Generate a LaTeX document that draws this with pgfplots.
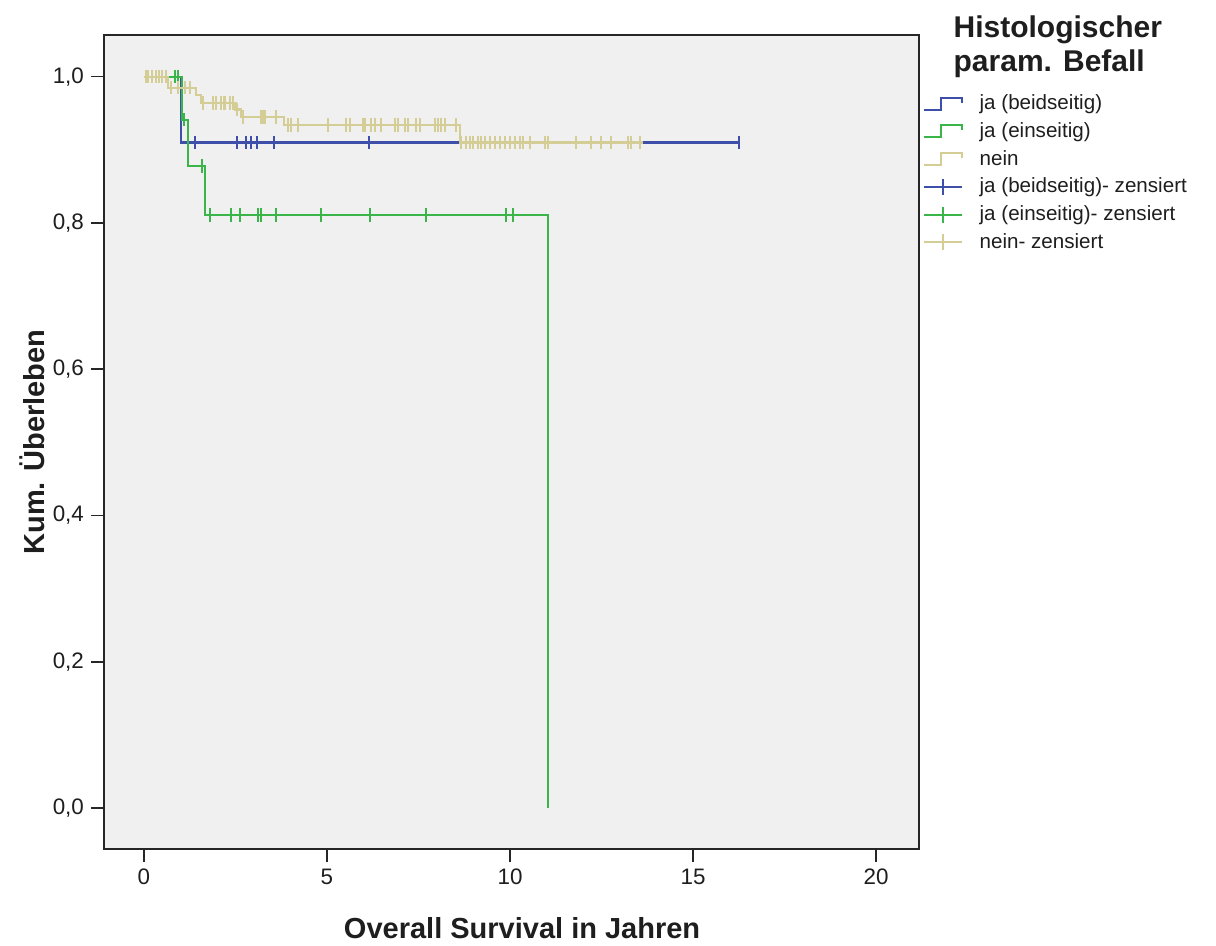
\documentclass[border=0pt]{standalone}
\usepackage{fontspec}
\setmainfont{Liberation Sans}
\usepackage{pgfplots}
\pgfplotsset{compat=1.18}
\definecolor{cBlue}{HTML}{3E4FAA}
\definecolor{cGreen}{HTML}{3AB54A}
\definecolor{cBeige}{HTML}{D4CD95}
\definecolor{plotbg}{HTML}{F0F0F0}
\definecolor{txt}{HTML}{1E1E1E}

\begin{document}
\begin{tikzpicture}
\begin{axis}[
  scale only axis, width=407.5pt, height=407pt,
  xmin=-1.09, xmax=21.17, ymin=-0.056, ymax=1.057,
  xtick={0,5,10,15,20}, ytick={0,0.2,0.4,0.6,0.8,1.0},
  xtick pos=left, ytick pos=left, tick align=outside,
  major tick length=6.5pt,
  every tick/.style={black!85, line width=0.8pt},
  axis line style={black!85, line width=1pt},
  axis background/.style={fill=plotbg},
  tick label style={font=\fontsize{11.2}{13}\selectfont, text=txt},
  /pgf/number format/assume math mode=true,
  yticklabel style={/pgf/number format/.cd, use comma, fixed, fixed zerofill, precision=1},
  xlabel={Overall Survival in Jahren},
  ylabel={Kum. Überleben},
  every axis x label/.style={at={(axis description cs:0.513,-0.097)}, anchor=center,
    font=\bfseries\fontsize{14.5}{16}\selectfont, text=txt},
  every axis y label/.style={at={(axis description cs:-0.088,0.5)}, anchor=center, rotate=90,
    font=\bfseries\fontsize{14.5}{16}\selectfont, text=txt},
  clip=false,
  legend cell align=left,
  legend style={at={(axis description cs:1.004,0.937)}, anchor=north west, draw=none, fill=none,
    font=\fontsize{10.3}{12}\selectfont, text=txt, row sep=0.9pt, inner xsep=0pt},
]
% Kaplan-Meier-Kurven
\addplot[const plot, cBlue, line width=1.1pt,
  legend image code/.code={\draw[cBlue,line width=1pt] (0pt,-3pt) -- (8.5pt,-3pt) -- (8.5pt,3pt) -- (19pt,3pt) -- (19pt,0.5pt); \path[draw=none,fill=none] (0pt,0pt) -- (26pt,0pt);}]
  coordinates {(0,1) (1.01,0.910) (16.26,0.910)};
\addlegendentry{ja (beidseitig)}
\addplot[const plot, cGreen, line width=1.1pt,
  legend image code/.code={\draw[cGreen,line width=1pt] (0pt,-3pt) -- (8.5pt,-3pt) -- (8.5pt,3pt) -- (19pt,3pt) -- (19pt,0.5pt); \path[draw=none,fill=none] (0pt,0pt) -- (26pt,0pt);}]
  coordinates {(0,1) (1.04,0.941) (1.20,0.878) (1.66,0.811) (11.04,0)};
\addlegendentry{ja (einseitig)}
\addplot[const plot, cBeige, line width=1.1pt,
  legend image code/.code={\draw[cBeige,line width=1pt] (0pt,-3pt) -- (8.5pt,-3pt) -- (8.5pt,3pt) -- (19pt,3pt) -- (19pt,0.5pt); \path[draw=none,fill=none] (0pt,0pt) -- (26pt,0pt);}]
  coordinates {(0,1) (0.66,0.985) (1.42,0.975) (1.55,0.964) (2.50,0.955) (2.65,0.945) (3.83,0.934) (8.63,0.910) (13.63,0.910)};
\addlegendentry{nein}
% zensierte Faelle
\addplot[only marks, mark=|, mark size=3.3pt, cBlue, mark options={line width=1.1pt},
  legend image code/.code={\draw[cBlue,line width=1pt] (0pt,0pt) -- (19pt,0pt) (9.5pt,-4pt) -- (9.5pt,4pt); \path[draw=none,fill=none] (0pt,0pt) -- (26pt,0pt);}]
  coordinates {(1.39,0.910) (2.54,0.910) (2.79,0.910) (2.92,0.910) (3.09,0.910) (3.55,0.910) (6.15,0.910) (16.26,0.910)};
\addlegendentry{ja (beidseitig)- zensiert}
\addplot[only marks, mark=|, mark size=3.3pt, cGreen, mark options={line width=1.1pt},
  legend image code/.code={\draw[cGreen,line width=1pt] (0pt,0pt) -- (19pt,0pt) (9.5pt,-4pt) -- (9.5pt,4pt); \path[draw=none,fill=none] (0pt,0pt) -- (26pt,0pt);}]
  coordinates {(0.85,1) (0.93,1) (1.10,0.941) (1.58,0.878)
    (1.80,0.811) (2.38,0.811) (2.62,0.811) (3.11,0.811) (3.20,0.811) (3.60,0.811)
    (4.84,0.811) (6.17,0.811) (7.70,0.811) (9.90,0.811) (10.08,0.811)};
\addlegendentry{ja (einseitig)- zensiert}
\addplot[only marks, mark=|, mark size=3.3pt, cBeige, mark options={line width=1.1pt},
  legend image code/.code={\draw[cBeige,line width=1pt] (0pt,0pt) -- (19pt,0pt) (9.5pt,-4pt) -- (9.5pt,4pt); \path[draw=none,fill=none] (0pt,0pt) -- (26pt,0pt);}]
  coordinates {(0.05,1) (0.12,1) (0.22,1) (0.32,1) (0.42,1) (0.50,1) (0.60,1)
    (0.74,0.985) (0.93,0.985) (1.12,0.985) (1.26,0.985)
    (1.61,0.964) (1.89,0.964) (1.97,0.964) (2.10,0.964) (2.20,0.964) (2.35,0.964) (2.43,0.964)
    (2.55,0.955)
    (2.70,0.945) (3.20,0.945) (3.25,0.945) (3.30,0.945) (3.60,0.945)
    (3.93,0.934) (4.02,0.934) (4.20,0.934) (5.03,0.934) (5.52,0.934) (5.63,0.934) (5.98,0.934)
    (6.04,0.934) (6.20,0.934) (6.31,0.934) (6.48,0.934) (6.86,0.934) (6.94,0.934) (7.13,0.934)
    (7.21,0.934) (7.43,0.934) (7.54,0.934) (7.95,0.934) (8.03,0.934) (8.11,0.934) (8.22,0.934) (8.52,0.934)
    (8.66,0.910) (8.80,0.910) (8.91,0.910) (8.99,0.910) (9.13,0.910) (9.21,0.910) (9.32,0.910)
    (9.45,0.910) (9.59,0.910) (9.73,0.910) (9.86,0.910) (10.00,0.910) (10.14,0.910) (10.27,0.910)
    (10.36,0.910) (10.55,0.910) (10.96,0.910) (11.04,0.910) (11.80,0.910) (12.21,0.910)
    (12.49,0.910) (12.76,0.910) (13.22,0.910) (13.31,0.910) (13.55,0.910)};
\addlegendentry{nein- zensiert}
\node[anchor=north west, align=left, inner sep=0pt, text=txt,
  font=\bfseries\fontsize{15}{17.2}\selectfont]
  at (axis description cs:1.042,1.024) {Histologischer\\param. Befall};
\end{axis}
\path ([shift={(-52pt,-46pt)}]current axis.south west) rectangle ([shift={(556pt,424.5pt)}]current axis.south west);
\end{tikzpicture}
\end{document}
